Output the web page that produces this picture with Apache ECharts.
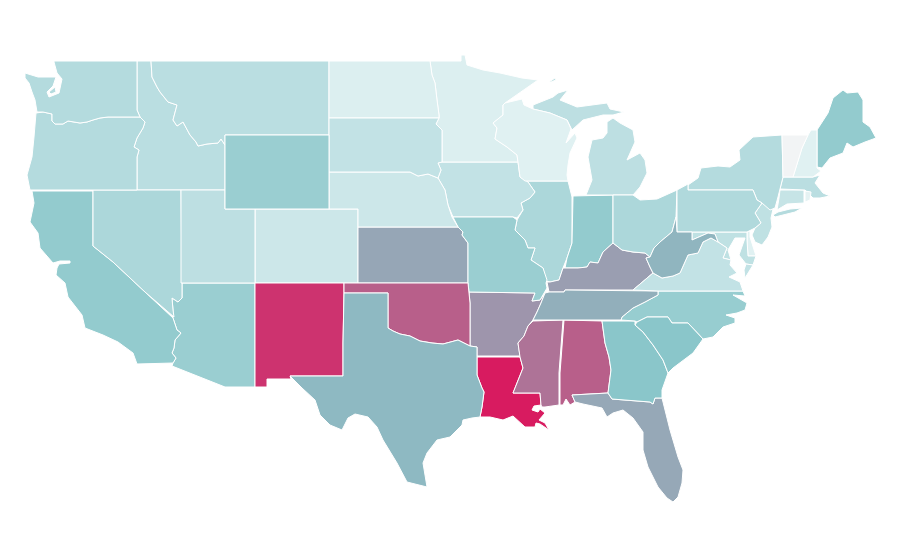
<!DOCTYPE html>
<html>
<head>
<meta charset="utf-8">
<title>US states choropleth</title>
<style>
  html, body { margin: 0; padding: 0; background: #fff; }
  #chart { width: 900px; height: 560px; }
</style>
<script src="https://cdn.jsdelivr.net/npm/echarts@6/dist/echarts.min.js"></script>
</head>
<body>
<div id="chart"></div>
<script>
const stateNames = ['Alabama','Arizona','Arkansas','California','Colorado','Connecticut','Delaware','Florida','Georgia','Idaho','Illinois','Indiana','Iowa','Kansas','Kentucky','Louisiana','Maine','Maryland','Massachusetts','Michigan','Minnesota','Mississippi','Missouri','Montana','Nebraska','Nevada','New Hampshire','New Jersey','New Mexico','New York','North Carolina','North Dakota','Ohio','Oklahoma','Oregon','Pennsylvania','Rhode Island','South Carolina','South Dakota','Tennessee','Texas','Utah','Vermont','Virginia','Washington','West Virginia','Wisconsin','Wyoming'];
const stateValues = [80,42,64,45,19,22,10,58.5,49,27.5,33.5,45,23.5,59,61.5,100,45,25,27.5,26,11.8,74,42,27.5,19,33.5,10,25,93,30,43,11.8,33.5,80,30,32,7.4,49,23.5,56.5,53.5,26,0.5,23.5,30,54.7,10,42];
const colorStops = ['#f3f4f5','#e0f1f2','#cae6e8','#b4dbde','#9ed0d3','#88c5c9','#98a3b4','#a8819f','#b85f8a','#c83d75','#d81b60'];

// base map: simplified state outlines in map units, one string per polygon
const stateOutlines = {
  'Washington': ['54,61 137,61 137,110 140,117 108,117 100,118 93,120 87,122 80,123 68,121 63,124 55,124 52,121 52,114 43,112 37,112 36,113 35,100 32,92 29,83 25,78 25,73 38,77 48,77 56,77 53,86 47,92 49,97 59,93 62,79 57,73 54,62', '49,92 55,87 56,92 51,94'],
  'Oregon': ['36,113 37,112 43,112 52,114 52,121 55,124 63,124 68,121 80,123 87,122 93,120 100,118 108,117 140,117 145,122 143,128 137,138 134,147 139,150 137,157 137,190 30,190 27,175 32,157 34,137'],
  'Idaho': ['137,61 151,61 152,77 157,87 160,92 168,102 177,105 173,120 177,126 183,122 190,135 196,142 198,146 207,144 218,143 221,139 225,145 225,190 137,190 137,157 139,150 134,147 137,138 143,128 145,122 140,117 137,110'],
  'Montana': ['151,61 329,61 329,135 225,135 225,145 221,139 218,143 207,144 198,146 196,142 190,135 183,122 177,126 173,120 177,105 168,102 160,92 157,87 152,77'],
  'Wyoming': ['225,135 329,135 329,209 225,209'],
  'North Dakota': ['329,61 430,61 432,75 435,83 437,100 439,115 439,118 329,118'],
  'South Dakota': ['329,118 439,118 436,124 442,130 442,162 438,163 441,170 438,178 428,174 418,176 410,172 342,172 329,172'],
  'Nebraska': ['329,172 342,172 410,172 418,176 428,174 438,178 445,190 448,205 452,217 458,227 358,227 358,209 329,209'],
  'Colorado': ['255,209 358,209 358,283 255,283'],
  'Utah': ['181,190 225,190 225,209 255,209 255,283 181,283'],
  'Nevada': ['93,190 181,190 182,283 182,298 178,302 172,298 173,310 174,317 173,318 145,292 113,262 93,246'],
  'California': ['32,191 93,191 93,246 113,262 145,292 173,318 177,330 181,333 175,340 174,348 172,353 176,358 173,363 137,364 133,353 118,342 103,335 85,328 82,315 68,297 65,283 56,275 57,268 59,264 70,263 70,261 60,261 53,263 40,248 38,233 30,222 34,203'],
  'Arizona': ['182,283 255,283 255,387 225,387 172,366 173,363 176,358 172,353 174,348 175,340 181,333 177,330 173,318 174,317 173,310 172,298 178,302 182,298'],
  'New Mexico': ['255,283 344,283 344,293 343,343 343,376 290,376 291,379 267,379 267,387 255,387'],
  'Texas': ['344,293 388,293 388,328 393,331 400,334 410,336 420,341 432,343 443,344 458,340 470,346 477,347 477,375 482,388 484,392 482,407 480,417 472,418 463,420 462,425 450,437 437,440 427,453 423,463 427,487 407,482 397,463 383,440 377,427 368,417 355,414 348,418 342,430 330,425 320,415 315,400 302,388 290,376 343,376 343,343'],
  'Oklahoma': ['344,283 468,283 470,303 470,346 458,340 443,344 432,343 420,341 410,336 400,334 393,331 388,328 388,293 344,293'],
  'Kansas': ['358,227 458,227 463,232 462,235 468,243 468,283 358,283'],
  'Missouri': ['453,217 513,217 517,220 515,230 525,240 528,248 535,248 531,260 543,268 547,280 546,283 547,288 540,300 532,301 535,293 469,292 468,283 468,243 462,235 463,232 458,227'],
  'Iowa': ['442,162 518,162 520,177 528,182 535,192 530,198 521,203 523,210 517,218 513,217 453,217 452,217 448,205 445,190 438,178 441,170 438,163'],
  'Minnesota': ['430,61 461,61 461,55 465,55 467,65 483,70 500,73 522,78 538,80 505,103 503,105 503,115 493,123 497,128 495,139 507,147 517,155 518,162 442,162 442,130 436,124 439,118 439,115 437,100 435,83 432,75'],
  'Wisconsin': ['505,103 522,99 524,105 533,109 550,113 567,120 571,129 566,143 566,144 575,133 577,138 570,153 568,165 567,175 568,181 525,181 520,177 518,162 517,155 507,147 495,139 497,128 493,123 503,115 503,105'],
  'Michigan': ['533,109 533,105 553,97 558,93 568,90 560,100 577,107 607,103 610,109 624,112 613,115 603,115 583,120 572,130 571,129 567,120 550,113', '613,118 620,123 633,130 635,142 627,160 640,153 645,160 647,173 640,187 633,195 586,195 592,180 588,157 592,140 603,138 607,133 607,122', '549,82 555,78 556,80 551,82'],
  'Illinois': ['525,181 568,181 572,197 572,243 567,258 563,268 559,280 550,282 546,281 543,268 531,260 535,248 528,248 525,240 515,230 517,220 523,210 521,203 530,198 535,192 528,182'],
  'Indiana': ['573,196 613,195 613,243 603,252 598,263 590,262 587,267 578,268 565,268 567,258 572,243'],
  'Ohio': ['613,195 633,195 640,200 657,199 677,190 676,217 672,232 660,242 654,248 650,257 645,253 633,252 622,250 613,243'],
  'Pennsylvania': ['677,190 688,184 688,190 753,190 757,200 762,203 755,213 761,223 755,228 747,232 677,232'],
  'New York': ['688,185 698,178 701,168 718,166 730,167 740,160 739,150 753,137 782,135 783,177 778,197 775,208 770,210 762,203 757,200 753,190 688,190', '773,215 778,212 790,209 802,208 795,212 783,215 775,217'],
  'Vermont': ['782,135 808,135 802,148 793,177 783,177'],
  'New Hampshire': ['808,135 811,130 817,130 817,168 821,171 813,177 793,177 802,148'],
  'Maine': ['817,130 828,113 833,98 843,90 847,93 858,92 863,100 863,122 870,127 876,138 865,142 853,147 847,143 843,153 830,158 822,168 817,167'],
  'Massachusetts': ['783,177 813,177 820,175 815,183 823,193 830,196 820,198 813,198 805,190 780,189'],
  'Connecticut': ['780,190 804,190 804,203 787,204 777,210 779,198'],
  'Rhode Island': ['805,191 811,192 810,200 805,202'],
  'New Jersey': ['762,203 773,209 771,218 772,227 768,237 762,245 755,242 752,235 755,228 761,223 755,213'],
  'Delaware': ['747,232 750,231 750,237 756,256 748,256 747,240'],
  'Maryland': ['692,232 747,232 747,240 748,256 756,256 753,265 746,264 739,255 745,238 735,238 728,250 731,260 723,258 727,248 718,242 715,234 708,233 692,240'],
  'West Virginia': ['692,240 708,233 715,234 718,242 711,238 703,242 698,253 688,255 680,273 673,276 662,278 653,273 650,267 646,258 650,257 654,248 660,242 672,232 676,217 677,217 677,232 692,232'],
  'Virginia': ['633,290 653,273 662,278 673,276 680,273 688,255 698,253 703,242 711,238 718,242 727,248 723,258 731,260 730,265 737,273 729,277 740,282 743,291 658,291', '746,264 753,265 745,278 744,270'],
  'Kentucky': ['547,282 550,282 559,280 563,268 565,268 578,268 587,267 590,262 598,263 603,252 613,243 622,250 633,252 645,253 650,257 646,258 650,267 653,273 633,290 565,290 564,292 549,292'],
  'Tennessee': ['545,293 549,292 564,292 565,290 658,291 658,295 645,302 633,308 622,317 621,320 533,320 537,312 541,303'],
  'North Carolina': ['621,320 622,317 633,308 645,302 658,295 658,291 743,291 745,296 733,295 747,303 745,310 737,313 726,315 735,318 735,323 723,327 713,337 703,339 688,323 672,323 668,317 647,317 637,322 635,321'],
  'South Carolina': ['637,322 647,317 668,317 672,323 688,323 703,339 693,353 673,368 668,373 663,360 653,345 643,332 635,325'],
  'Georgia': ['602,321 635,321 635,325 643,332 653,345 663,360 668,373 662,390 662,398 655,398 653,404 650,402 612,399 608,393 611,370 609,357 605,343'],
  'Florida': ['572,395 608,393 612,399 650,402 653,404 655,398 662,398 670,430 678,457 683,470 682,483 678,497 673,502 667,498 658,487 648,467 643,450 643,432 633,418 623,410 613,413 607,417 602,408 583,404 575,402'],
  'Alabama': ['564,320 602,321 605,343 609,357 611,370 608,393 572,395 575,402 570,405 566,399 563,405 560,405 560,373'],
  'Mississippi': ['533,321 563,320 559,373 559,405 545,407 542,407 541,405 540,393 513,393 523,368 520,357 518,343 524,336 528,326'],
  'Louisiana': ['477,357 520,357 523,368 513,393 540,393 541,405 534,406 532,410 538,412 540,409 545,413 539,420 545,423 549,430 540,424 536,423 535,427 525,427 513,416 503,420 490,417 480,417 482,407 484,392 482,388 477,375'],
  'Arkansas': ['469,292 535,293 532,301 540,300 545,293 541,303 537,312 533,320 528,326 524,336 518,343 520,356 477,356 477,347 470,346 470,303']
};

const parseRing = (str) => {
  const pts = str.split(' ').map((p) => p.split(',').map(Number));
  pts.push(pts[0]);
  return [pts];
};

const usaGeo = {
  type: 'FeatureCollection',
  features: stateNames.map((name) => ({
    type: 'Feature',
    properties: { name },
    geometry: { type: 'MultiPolygon', coordinates: stateOutlines[name].map(parseRing) }
  }))
};
echarts.registerMap('usa', usaGeo);

const chart = echarts.init(document.getElementById('chart'));
chart.setOption({
  backgroundColor: '#fff',
  animation: false,
  tooltip: { show: false },
  visualMap: {
    show: false,
    type: 'continuous',
    min: 0,
    max: 100,
    inRange: { color: colorStops }
  },
  series: [{
    type: 'map',
    map: 'usa',
    silent: true,
    roam: false,
    left: 0,
    top: 0,
    width: 900,
    height: 560,
    boundingCoords: [[0, 0], [900, 560]],
    projection: { project: (p) => p, unproject: (p) => p },
    label: { show: false },
    itemStyle: { borderColor: '#fff', borderWidth: 1 },
    data: stateNames.map((name, i) => ({ name, value: stateValues[i] }))
  }]
});
</script>
</body>
</html>
